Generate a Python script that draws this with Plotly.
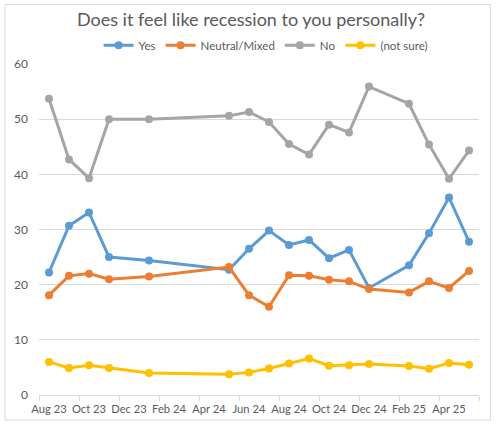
import plotly.graph_objects as go

# ---- data ----
months = ["2023-08", "2023-09", "2023-10", "2023-11", "2024-01", "2024-05", "2024-06",
          "2024-07", "2024-08", "2024-09", "2024-10", "2024-11", "2024-12", "2025-02",
          "2025-03", "2025-04", "2025-05"]
yes = [22.2, 30.7, 33.1, 25.0, 24.4, 22.7, 26.5, 29.8, 27.2, 28.1, 24.8, 26.3, 19.4,
       23.5, 29.3, 35.8, 27.8]
neutral = [18.1, 21.6, 22.0, 21.0, 21.5, 23.2, 18.1, 16.0, 21.7, 21.6, 20.9, 20.6, 19.2,
           18.6, 20.6, 19.4, 22.5]
no = [53.7, 42.7, 39.3, 50.0, 50.0, 50.6, 51.3, 49.5, 45.5, 43.6, 49.0, 47.6, 55.9,
      52.8, 45.4, 39.2, 44.3]
not_sure = [6.0, 4.9, 5.4, 4.9, 4.0, 3.75, 4.1, 4.8, 5.7, 6.6, 5.3, 5.4, 5.6, 5.25,
            4.75, 5.8, 5.5]
tick_months = ["2023-08", "2023-10", "2023-12", "2024-02", "2024-04", "2024-06",
               "2024-08", "2024-10", "2024-12", "2025-02", "2025-04"]
tick_labels = ["Aug 23", "Oct 23", "Dec 23", "Feb 24", "Apr 24", "Jun 24", "Aug 24",
               "Oct 24", "Dec 24", "Feb 25", "Apr 25"]
series_names = ["Yes", "Neutral/Mixed", "No", "(not sure)"]
colors = ["#5B9BD5", "#ED7D31", "#A5A5A5", "#FFC000"]


def midx(s):
    y, m = s.split("-")
    return (int(y) - 2023) * 12 + int(m) - 8


x = [midx(m) for m in months]
tickvals = [midx(m) for m in tick_months]

fig = go.Figure()
for name, vals, col in zip(series_names, [yes, neutral, no, not_sure], colors):
    fig.add_trace(go.Scatter(
        x=x, y=vals, name=name, mode="lines+markers",
        line=dict(color=col, width=3),
        marker=dict(color=col, size=8, symbol="circle"),
    ))

font_family = "Lato, Carlito, Calibri, sans-serif"
grey = "#595959"

fig.update_layout(
    width=500, height=425,
    margin=dict(l=39, r=21, t=64, b=30),
    paper_bgcolor="white", plot_bgcolor="white",
    font=dict(family=font_family, color=grey, size=12),
    title=dict(text="Does it feel like recession to you personally?",
               x=0.502, xref="container", xanchor="center",
               y=1 - 20 / 425, yref="container", yanchor="middle",
               font=dict(size=18, color=grey, family=font_family)),
    showlegend=True,
    legend=dict(orientation="h", x=0.515, xanchor="center", y=1.057, yanchor="middle",
                font=dict(size=11.5, color=grey), bgcolor="rgba(0,0,0,0)",
                itemwidth=30, tracegroupgap=0),
    xaxis=dict(range=[-0.5, 21.5], tickmode="array", tickvals=tickvals,
               ticktext=tick_labels, ticks="", showgrid=False, zeroline=False,
               showline=True, linecolor="#d9d9d9", linewidth=1, automargin=False,
               tickfont=dict(size=11.2, color=grey), ticklabelstandoff=4,
               minor=dict(tickmode="array", tickvals=[v - 0.5 for v in tickvals] + [21.5],
                          ticks="outside", ticklen=5, tickcolor="#d9d9d9", tickwidth=1,
                          showgrid=False)),
    yaxis=dict(range=[0, 60], dtick=10, tick0=0, showgrid=True, gridcolor="#d9d9d9",
               gridwidth=1, zeroline=False, showline=False, ticks="", automargin=False,
               tickfont=dict(size=12, color=grey), ticklabelstandoff=10),
    shapes=[dict(type="rect", xref="paper", yref="paper",
                 x0=(5 - 39) / 440, x1=(490.5 - 39) / 440,
                 y0=(395 - 420) / 331, y1=(395 - 4.5) / 331,
                 line=dict(color="#d9d9d9", width=1), layer="below")],
)

fig.write_html("out.html")
